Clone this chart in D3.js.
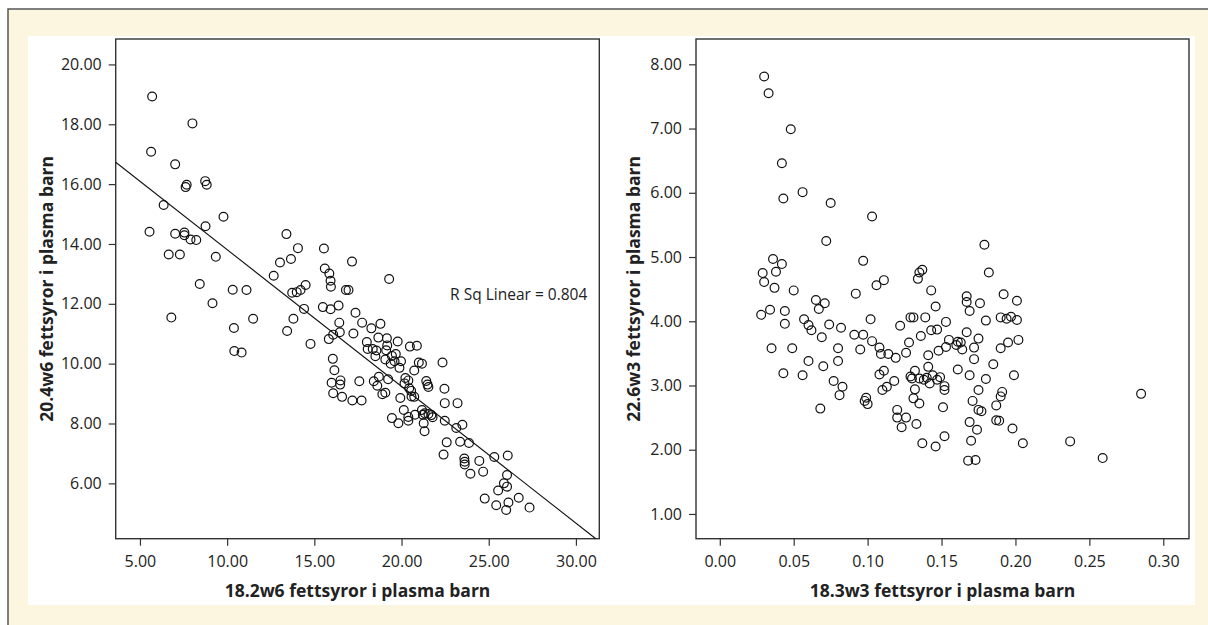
<!DOCTYPE html>
<html>
<head>
<meta charset="utf-8">
<script src="https://cdn.jsdelivr.net/npm/d3@7"></script>
<style>
  body { margin: 0; background: #fff; }
  text { font-family: "Open Sans", "Noto Sans", sans-serif; fill: #222; }
</style>
</head>
<body>
<svg width="1208" height="625"></svg>
<script>
"use strict";

// Data.

var w6Points = [
  [5.70,18.93],[8.01,18.03],[5.64,17.08],[7.02,16.66],[7.68,15.98],[7.62,15.90],[8.74,16.10],[8.83,15.98],
  [6.36,15.30],[9.79,14.91],[5.55,14.41],[7.02,14.34],[7.55,14.38],[7.55,14.29],[7.90,14.15],[8.23,14.13],
  [8.76,14.59],[6.65,13.65],[7.29,13.65],[9.35,13.57],[8.43,12.66],[9.16,12.02],[6.80,11.54],[10.32,12.47],
  [11.11,12.46],[10.39,11.19],[11.49,11.50],[10.41,10.42],[10.83,10.37],[13.40,14.33],[14.06,13.86],[13.66,13.50],
  [13.03,13.38],[12.67,12.94],[13.73,12.37],[13.99,12.39],[14.21,12.46],[14.50,12.63],[14.41,11.83],[13.80,11.50],
  [13.44,11.09],[14.78,10.66],[15.55,13.85],[15.60,13.18],[15.86,13.01],[15.93,12.77],[15.95,12.57],[17.16,13.41],
  [19.29,12.83],[16.81,12.46],[16.96,12.46],[15.49,11.89],[15.93,11.82],[16.39,11.94],[17.36,11.70],[16.43,11.37],
  [16.46,11.05],[16.08,10.97],[15.83,10.82],[17.24,11.01],[17.74,11.37],[18.27,11.18],[18.79,11.33],[18.01,10.72],
  [18.06,10.49],[18.35,10.49],[18.56,10.44],[18.50,10.25],[18.67,10.87],[19.16,10.85],[19.78,10.74],[19.18,10.61],
  [19.12,10.45],[19.07,10.14],[19.45,10.26],[19.67,10.32],[19.60,10.08],[19.97,10.08],[19.88,9.86],[19.38,10.00],
  [20.48,10.57],[20.88,10.60],[20.73,9.77],[20.99,10.04],[21.17,10.00],[22.35,10.04],[16.06,10.16],[16.15,9.78],
  [15.99,9.36],[16.50,9.44],[16.48,9.30],[16.08,9.01],[16.59,8.89],[17.18,8.77],[17.71,8.77],[17.58,9.41],
  [18.41,9.41],[18.61,9.26],[18.70,9.56],[18.90,8.98],[19.07,9.03],[19.23,9.48],[20.22,9.52],[20.17,9.34],
  [20.39,9.44],[20.44,9.18],[20.55,9.09],[20.57,8.90],[20.73,8.89],[21.42,9.42],[21.49,9.30],[21.54,9.22],
  [19.93,8.85],[20.13,8.45],[19.45,8.18],[19.82,8.01],[20.39,8.22],[20.39,8.09],[20.77,8.29],[21.17,8.45],
  [21.22,8.29],[21.33,8.34],[21.54,8.32],[21.71,8.28],[21.78,8.21],[21.27,8.01],[21.32,7.74],[22.48,8.09],
  [22.46,9.16],[22.48,8.68],[23.21,8.68],[23.14,7.85],[23.49,7.96],[22.59,7.37],[23.36,7.39],[23.87,7.35],
  [22.41,6.96],[23.60,6.83],[23.62,6.72],[23.62,6.63],[23.95,6.32],[24.46,6.75],[24.68,6.39],[25.32,6.88],
  [26.09,6.93],[26.05,6.28],[25.87,6.00],[26.05,5.89],[25.54,5.76],[24.77,5.49],[25.43,5.27],[26.13,5.36],
  [26.72,5.52],[26.00,5.11],[27.34,5.19]
];

var w3Points = [
  [0.030,7.81],[0.033,7.55],[0.048,6.99],[0.042,6.46],[0.043,5.91],[0.056,6.01],[0.075,5.84],[0.103,5.63],
  [0.072,5.25],[0.179,5.19],[0.182,4.76],[0.036,4.97],[0.042,4.89],[0.029,4.75],[0.030,4.61],[0.038,4.77],
  [0.037,4.52],[0.050,4.48],[0.034,4.18],[0.044,4.16],[0.028,4.10],[0.044,3.96],[0.035,3.58],[0.049,3.58],
  [0.043,3.19],[0.056,3.16],[0.060,3.38],[0.057,4.03],[0.060,3.94],[0.062,3.86],[0.065,4.33],[0.067,4.19],
  [0.071,4.28],[0.074,3.95],[0.069,3.75],[0.070,3.30],[0.068,2.64],[0.080,3.58],[0.080,3.38],[0.082,3.90],
  [0.077,3.07],[0.083,2.98],[0.081,2.85],[0.092,4.43],[0.097,4.94],[0.091,3.79],[0.097,3.79],[0.095,3.56],
  [0.102,4.03],[0.103,3.69],[0.106,4.56],[0.111,4.64],[0.108,3.59],[0.109,3.49],[0.114,3.49],[0.119,3.43],
  [0.108,3.17],[0.111,3.23],[0.110,2.93],[0.113,2.98],[0.118,3.07],[0.099,2.81],[0.098,2.76],[0.100,2.71],
  [0.120,2.62],[0.120,2.50],[0.123,2.35],[0.126,2.50],[0.122,3.93],[0.128,3.67],[0.126,3.51],[0.129,4.06],
  [0.131,4.06],[0.139,4.06],[0.134,4.66],[0.135,4.76],[0.137,4.80],[0.143,4.48],[0.146,4.23],[0.136,3.77],
  [0.143,3.86],[0.147,3.87],[0.153,3.99],[0.141,3.47],[0.141,3.29],[0.148,3.54],[0.153,3.60],[0.155,3.71],
  [0.129,3.14],[0.132,3.23],[0.130,3.11],[0.135,3.11],[0.138,3.09],[0.140,3.12],[0.142,3.03],[0.144,3.16],
  [0.147,3.09],[0.149,3.13],[0.152,2.99],[0.152,2.93],[0.132,2.94],[0.131,2.80],[0.135,2.72],[0.133,2.40],
  [0.137,2.10],[0.146,2.05],[0.152,2.21],[0.151,2.66],[0.161,3.68],[0.160,3.63],[0.163,3.67],[0.164,3.56],
  [0.161,3.25],[0.167,4.39],[0.167,4.30],[0.169,4.16],[0.167,3.83],[0.176,4.28],[0.180,4.01],[0.175,3.73],
  [0.172,3.59],[0.172,3.41],[0.169,3.16],[0.180,3.10],[0.175,2.93],[0.171,2.76],[0.175,2.62],[0.177,2.60],
  [0.169,2.43],[0.174,2.31],[0.170,2.14],[0.168,1.83],[0.173,1.84],[0.192,4.42],[0.201,4.32],[0.190,4.06],
  [0.194,4.04],[0.197,4.07],[0.201,4.02],[0.195,3.67],[0.202,3.71],[0.190,3.58],[0.185,3.33],[0.199,3.16],
  [0.191,2.90],[0.190,2.83],[0.187,2.69],[0.187,2.46],[0.189,2.45],[0.198,2.33],[0.205,2.10],[0.237,2.13],
  [0.259,1.87],[0.285,2.87]
];

var w6XTicks = [5, 10, 15, 20, 25, 30];
var w6YTicks = [6, 8, 10, 12, 14, 16, 18, 20];
var w3XTicks = [0, 0.05, 0.10, 0.15, 0.20, 0.25, 0.30];
var w3YTicks = [1, 2, 3, 4, 5, 6, 7, 8];

// Linear fit shown on the left panel.
var w6Fit = { intercept: 18.38, slope: -0.457, label: "R Sq Linear = 0.804" };

var svg = d3.select("svg");

// Page background: cream frame with a white panel.
svg.append("rect").attr("x", 8).attr("y", 9).attr("width", 1200).attr("height", 616).attr("fill", "#fcf5df");
svg.append("path").attr("d", "M8,625V9H1208").attr("fill", "none").attr("stroke", "#555").attr("stroke-width", 1.5);
svg.append("rect").attr("x", 28).attr("y", 36).attr("width", 1167).attr("height", 569).attr("fill", "#fff");

var DrawPanel = function(opt){
  var x = d3.scaleLinear().domain(opt.xDomain).range([opt.left, opt.right]);
  var y = d3.scaleLinear().domain(opt.yDomain).range([opt.bottom, opt.top]);
  var g = svg.append("g");

  g.append("g")
    .attr("transform", "translate(0," + opt.bottom + ")")
    .call(d3.axisBottom(x).tickValues(opt.xTicks).tickFormat(d3.format(".2f")).tickSize(7).tickPadding(10))
    .call(function(a){ a.select(".domain").remove(); });

  g.append("g")
    .attr("transform", "translate(" + opt.left + ",0)")
    .call(d3.axisLeft(y).tickValues(opt.yTicks).tickFormat(d3.format(".2f")).tickSize(7).tickPadding(7))
    .call(function(a){ a.select(".domain").remove(); });

  g.selectAll(".tick line").attr("stroke", "#333").attr("stroke-width", 1.2);
  g.selectAll(".tick text").style("font-size", "16px").attr("fill", "#222");

  // Frame.
  g.append("rect")
    .attr("x", opt.left).attr("y", opt.top)
    .attr("width", opt.right - opt.left).attr("height", opt.bottom - opt.top)
    .attr("fill", "none").attr("stroke", "#333").attr("stroke-width", 1.4);

  if (opt.fit){
    var f = opt.fit;
    var x0 = opt.xDomain[0];
    var x1 = Math.min(opt.xDomain[1], (opt.yDomain[0] - f.intercept)/f.slope);
    g.append("line")
      .attr("x1", x(x0)).attr("y1", y(f.intercept + f.slope*x0))
      .attr("x2", x(x1)).attr("y2", y(f.intercept + f.slope*x1))
      .attr("stroke", "#111").attr("stroke-width", 1.1);
    g.append("text")
      .attr("x", opt.right - 12).attr("y", y(12.12))
      .attr("text-anchor", "end")
      .style("font-size", "15.5px")
      .text(f.label);
  }

  g.selectAll("circle.pt")
    .data(opt.data)
    .enter()
    .append("circle")
      .attr("class", "pt")
      .attr("cx", function(d){ return x(d[0]); })
      .attr("cy", function(d){ return y(d[1]); })
      .attr("r", 4.4)
      .attr("fill", "none")
      .attr("stroke", "#111")
      .attr("stroke-width", 1.2);

  g.append("text")
    .attr("x", (opt.left + opt.right)/2).attr("y", 597)
    .attr("text-anchor", "middle")
    .style("font-size", "17.5px").style("font-weight", "bold")
    .text(opt.xTitle);

  g.append("text")
    .attr("transform", "translate(" + opt.yTitleX + "," + (opt.top + opt.bottom)/2 + ") rotate(-90)")
    .attr("text-anchor", "middle")
    .style("font-size", "17.5px").style("font-weight", "bold")
    .text(opt.yTitle);
};

DrawPanel({
  data: w6Points, xTicks: w6XTicks, yTicks: w6YTicks,
  xDomain: [3.61, 31.34], yDomain: [4.15, 20.85],
  left: 115.7, right: 599.3, top: 39, bottom: 538.7,
  fit: w6Fit, yTitleX: 53,
  xTitle: "18.2w6 fettsyror i plasma barn",
  yTitle: "20.4w6 fettsyror i plasma barn"
});

DrawPanel({
  data: w3Points, xTicks: w3XTicks, yTicks: w3YTicks,
  xDomain: [-0.0161, 0.3174], yDomain: [0.615, 8.394],
  left: 696, right: 1189, top: 39, bottom: 538.7,
  yTitleX: 640,
  xTitle: "18.3w3 fettsyror i plasma barn",
  yTitle: "22.6w3 fettsyror i plasma barn"
});
</script>
</body>
</html>
